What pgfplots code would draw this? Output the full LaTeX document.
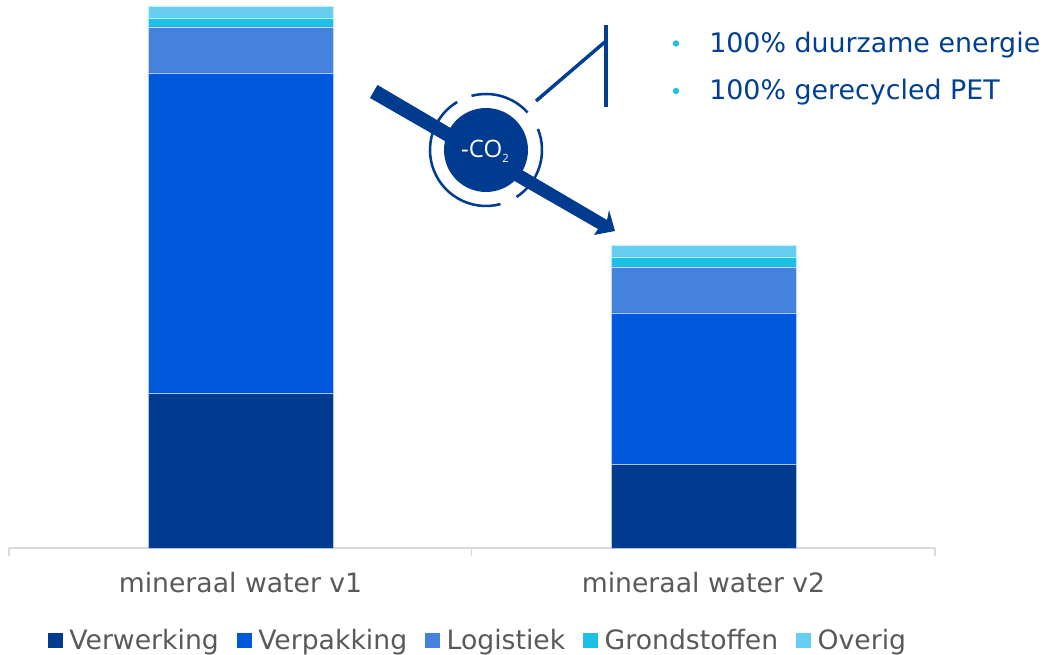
\documentclass[border=0pt]{standalone}
\usepackage{fontspec}
\setmainfont{DejaVu Sans}
\newfontfamily\badgefont{Open Sans}
\usepackage{pgfplots}
\pgfplotsset{compat=1.18}
\definecolor{cVerw}{HTML}{003B90}
\definecolor{cVerp}{HTML}{0059DC}
\definecolor{cLog}{HTML}{4582DE}
\definecolor{cGrond}{HTML}{1CBFE6}
\definecolor{cOver}{HTML}{66CEF0}
\definecolor{axisgrey}{HTML}{D9D9D9}
\definecolor{labelgrey}{HTML}{595959}
\definecolor{textblue}{HTML}{003F94}
\pgfplotstableread{
idx Verwerking Verpakking Logistiek Grondstoffen Overig
0 155 320 46 9 12
1 84 151 46 10 12
}\co
\begin{document}
\begin{tikzpicture}[x=0.75pt,y=-0.75pt]
\path[use as bounding box] (0,0) rectangle (1043,655);
\coordinate (base) at (9,548);
\begin{axis}[
  at={(base)}, anchor=south west,
  scale only axis, width=694.5pt, height=411pt,
  xmin=-0.5, xmax=1.5, ymin=0, ymax=548,
  ybar stacked, bar width=138.75pt,
  axis y line=none, axis x line*=bottom,
  axis line style={axisgrey, line width=1.1pt, -},
  xtick={0,1}, xticklabels={mineraal water v1, mineraal water v2},
  major tick length=0pt,
  xticklabel style={font=\fontsize{20}{24}\selectfont, text=labelgrey, yshift=-15pt},
  clip=false,
  legend columns=5,
  legend style={at={(0.0,-0.2)}, anchor=west, xshift=29.25pt, yshift=13pt, draw=none, fill=none,
    font=\fontsize{20}{24}\selectfont, text=labelgrey, inner sep=0pt, outer sep=0pt,
    /tikz/every even column/.style={column sep=11.5pt}},
  legend cell align=left,
  legend image code/.code={\fill[#1,draw=none] (0pt,-5.5pt) rectangle (11pt,5.5pt); \path (14pt,0pt);},
]
\addplot[fill=cVerw, draw=white!70!cVerw, line width=0.15pt] table[x=idx,y=Verwerking]{\co};
\addplot[fill=cVerp, draw=white!70!cVerp, line width=0.15pt] table[x=idx,y=Verpakking]{\co};
\addplot[fill=cLog, draw=white!70!cLog, line width=0.15pt] table[x=idx,y=Logistiek]{\co};
\addplot[fill=cGrond, draw=white!70!cGrond, line width=0.15pt] table[x=idx,y=Grondstoffen]{\co};
\addplot[fill=cOver, draw=white!70!cOver, line width=0.15pt] table[x=idx,y=Overig]{\co};
\legend{Verwerking,Verpakking,Logistiek,Grondstoffen,Overig}
\end{axis}
% category separators on the base line
\foreach \tx in {9,471.5,935} \draw[axisgrey,line width=1.1pt] (\tx,548) -- (\tx,556);
% callout lines
\draw[textblue,line width=2.6pt] (606,25) -- (606,107);
\draw[textblue,line width=2.6pt] (536,101) -- (606,41);
% reduction badge
\draw[cVerw,line width=1.9pt] (486,150) ++(75:56) arc[start angle=75,end angle=239,radius=56];
\draw[cVerw,line width=1.9pt] (486,150) ++(57:56) arc[start angle=57,end angle=-22,radius=56];
\draw[cVerw,line width=1.9pt] (486,150) ++(-42:56) arc[start angle=-42,end angle=-105,radius=56];
% arrow
\fill[cVerw] (377.5,85) -- (607,220) -- (609,210) -- (615,231) -- (594,235) -- (598,229) -- (370,98) -- cycle;
\fill[cVerw] (486,150) circle[radius=42];
\node[text=white,font=\badgefont\fontsize{18}{20}\selectfont] at (485,151) {-CO\raisebox{-0.4ex}{\fontsize{8.5}{9}\selectfont 2}};
% bullet list
\fill[cGrond] (676,43.5) circle[radius=3.2];
\fill[cGrond] (676,91) circle[radius=3.2];
\node[anchor=west,inner sep=0pt,text=textblue,font=\fontsize{20.15}{24}\selectfont] at (709,45.5) {100\% duurzame energie};
\node[anchor=west,inner sep=0pt,text=textblue,font=\fontsize{20.15}{24}\selectfont] at (709,92.5) {100\% gerecycled PET};
\end{tikzpicture}
\end{document}
